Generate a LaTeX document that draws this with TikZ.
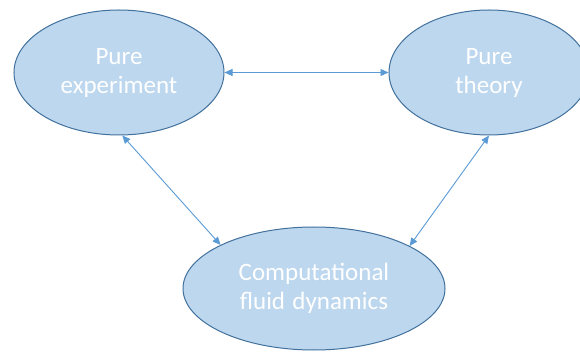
\documentclass[tikz,border=0pt]{standalone}
\usepackage{fontspec}
\setmainfont{Carlito}[WordSpace=1.3]
\usetikzlibrary{arrows.meta,shapes.geometric}
\definecolor{efill}{HTML}{BDD7EE}
\definecolor{edraw}{HTML}{41719C}
\definecolor{arrc}{HTML}{5B9BD5}
\tikzset{
  bubble/.style={ellipse, draw=edraw, fill=efill, line width=1pt, inner sep=0pt,
    text=white, align=center, font=\fontsize{25}{29}\selectfont},
  link/.style={draw=arrc, line width=0.9pt,
    {Triangle[length=8pt,width=7pt]}-{Triangle[length=8pt,width=7pt]}}
}
\begin{document}
\begin{tikzpicture}[x=1pt,y=-1pt]
\clip (0,0) rectangle (580,352);
\fill[white] (0,0) rectangle (580,352);
\node[bubble, minimum width=210pt, minimum height=125pt] (pe) at (119,72.5) {Pure\\experiment};
\node[bubble, minimum width=200pt, minimum height=125pt] (pt) at (489,72.5) {Pure\\theory};
\node[bubble, minimum width=262pt, minimum height=123pt] (cfd) at (314,288.5) {Computational\\fluid dynamics};
\draw[link] (pe.east) -- (pt.west);
\draw[link] (pe.-87.3) -- (cfd.155.5);
\draw[link] (pt.south) -- (cfd.24.5);
\end{tikzpicture}
\end{document}
